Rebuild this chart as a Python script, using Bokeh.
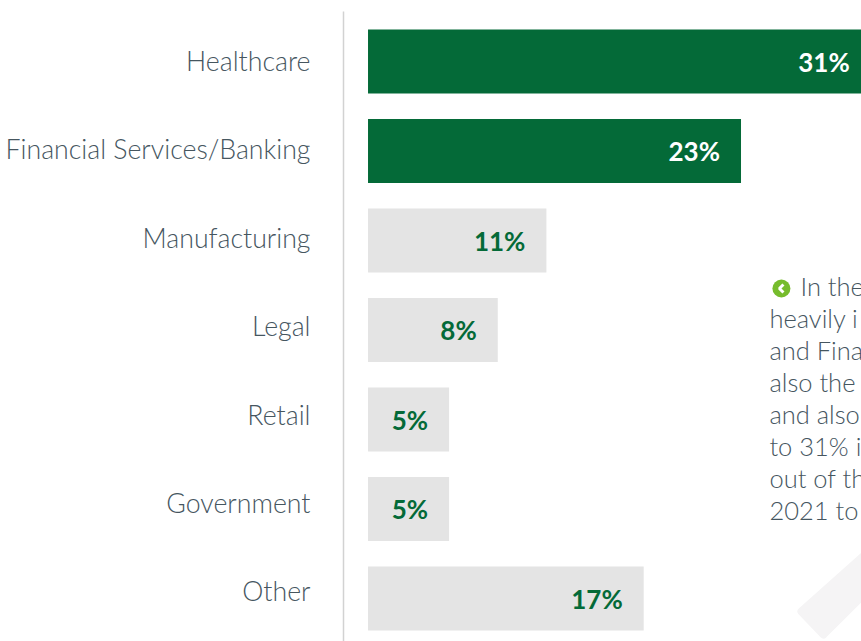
from bokeh.plotting import figure
from bokeh.models import Range1d, LinearAxis, FixedTicker, ColumnDataSource
from bokeh.core.properties import value
from bokeh.embed import file_html
from bokeh.resources import INLINE

categories = ["Healthcare", "Financial Services/Banking", "Manufacturing", "Legal", "Retail", "Government", "Other"]
values = [31, 23, 11, 8, 5, 5, 17]
colors = ["#046a38", "#046a38", "#e4e4e4", "#e4e4e4", "#e4e4e4", "#e4e4e4", "#e4e4e4"]
value_labels = ["31%", "23%", "11%", "8%", "5%", "5%", "17%"]
label_colors = ["white", "white", "#046a38", "#046a38", "#046a38", "#046a38", "#046a38"]
note_lines = ["In the", "heavily i", "and Fina", "also the", "and also", "to 31% i", "out of th", "2021 to"]

TEXT = "#46565f"
LIGHT = "Lato Light, Lato"
positions = list(range(len(categories)))

p = figure(width=861, height=641, output_backend="svg", toolbar_location=None,
           x_range=Range1d(-1.512, 30.43), y_range=Range1d(6.48, -0.559),
           min_border_left=343, min_border_right=0, min_border_top=11, min_border_bottom=0,
           background_fill_color="white", border_fill_color="white", outline_line_color=None)
p.xaxis.visible = False
p.yaxis.visible = False
p.grid.visible = False

p.extra_y_ranges = {"cat": Range1d(6.567, -0.56), "py": Range1d(641, 11)}
p.extra_x_ranges = {"px": Range1d(343.5, 861)}

ax = LinearAxis(y_range_name="cat", ticker=FixedTicker(ticks=positions),
                major_label_overrides={i: c for i, c in enumerate(categories)})
ax.major_tick_line_color = None
ax.minor_tick_line_color = None
ax.axis_line_color = "#d2d2d2"
ax.axis_line_width = 1.5
ax.major_label_standoff = 27
ax.major_label_text_font = LIGHT
ax.major_label_text_font_size = "26.7px"
ax.major_label_text_color = TEXT
p.add_layout(ax, "left")

# decorative watermark
p.patch([801, 823, 875, 875], [611, 634, 582, 545], x_range_name="px", y_range_name="py",
        fill_color="#f5f4f5", line_color="#f5f4f5", line_width=8, line_join="round")

src = ColumnDataSource(dict(y=positions, v=values, c=colors, t=value_labels, tc=label_colors))
p.hbar(y="y", left=0, right="v", height=64 / 89.5, fill_color="c", line_color=None, source=src)
p.text(x="v", y="y", text="t", source=src, x_offset=-21, y_offset=0, text_align="right", text_baseline="middle",
       text_color="tc", text_font=value("Lato"), text_font_style="bold", text_font_size="26px")

note_x = [800] + [769] * (len(note_lines) - 1)
note_y = [285 + 32.1 * i for i in range(len(note_lines))]
p.text(x=note_x, y=note_y, text=note_lines, x_range_name="px", y_range_name="py",
       text_baseline="middle", text_color=TEXT, text_font=value(LIGHT), text_font_size="25.5px")

p.scatter(x=[781], y=[288], size=18, marker="circle", fill_color="#76bc2c", line_color=None,
          x_range_name="px", y_range_name="py")
p.line(x=[783, 779, 783], y=[284, 288, 292], line_color="white", line_width=3,
       x_range_name="px", y_range_name="py")

open("out.html", "w").write(file_html(p, INLINE))
